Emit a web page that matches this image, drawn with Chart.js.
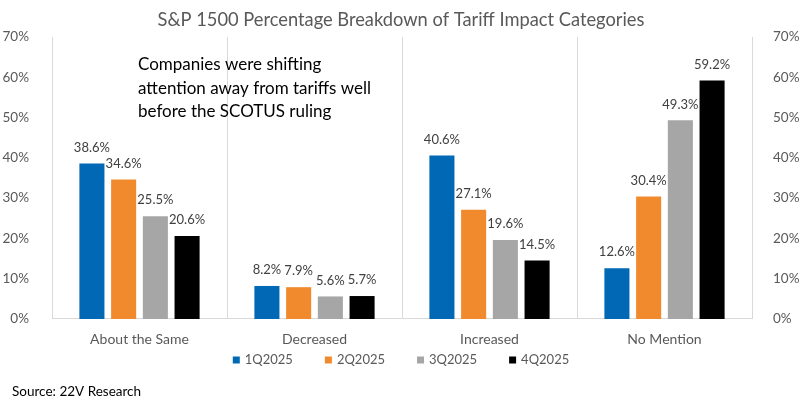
<!DOCTYPE html>
<html>
<head>
<meta charset="utf-8">
<script src="https://cdn.jsdelivr.net/npm/chart.js@4"></script>
<style>
  html, body { margin: 0; padding: 0; background: #fff; }
  #wrap { width: 802px; height: 401px; }
</style>
</head>
<body>
<div id="wrap"><canvas id="tariffChart"></canvas></div>
<script>
// Data
const categories = ['About the Same', 'Decreased', 'Increased', 'No Mention'];
const quarters = ['1Q2025', '2Q2025', '3Q2025', '4Q2025'];
const q1 = [38.6, 8.2, 40.6, 12.6];
const q2 = [34.6, 7.9, 27.1, 30.4];
const q3 = [25.5, 5.6, 19.6, 49.3];
const q4 = [20.6, 5.7, 14.5, 59.2];
const yTicks = [0, 10, 20, 30, 40, 50, 60, 70];
const colors = ['#0068B4', '#F18A2C', '#A6A6A6', '#000000'];

const note = [
  'Companies were shifting',
  'attention away from tariffs well',
  'before the SCOTUS ruling'
];

const FONT = 'Lato, "Noto Sans", sans-serif';

// value labels above bars, note text, legend and source line
const extras = {
  id: 'extras',
  afterDatasetsDraw(chart) {
    const ctx = chart.ctx;
    ctx.save();
    ctx.font = '13px ' + FONT;
    ctx.fillStyle = '#404040';
    ctx.textAlign = 'center';
    ctx.textBaseline = 'middle';
    chart.data.datasets.forEach((ds, i) => {
      chart.getDatasetMeta(i).data.forEach((bar, j) => {
        ctx.fillText(ds.data[j].toFixed(1) + '%', bar.x, bar.y - 16);
      });
    });
    ctx.restore();
  },
  afterDraw(chart) {
    const ctx = chart.ctx;
    ctx.save();
    ctx.textBaseline = 'middle';
    ctx.textAlign = 'left';

    // note
    ctx.font = '17px ' + FONT;
    ctx.fillStyle = '#000';
    note.forEach((line, i) => ctx.fillText(line, 138, 65 + i * 23.5));

    // legend
    ctx.font = '13px ' + FONT;
    const gap = 32;
    const items = chart.data.datasets.map(ds => 7 + 5 + ctx.measureText(ds.label).width);
    const total = items.reduce((a, b) => a + b, 0) + gap * (items.length - 1);
    let x = 401 - total / 2;
    const ly = 360;
    chart.data.datasets.forEach((ds, i) => {
      ctx.fillStyle = ds.backgroundColor;
      ctx.fillRect(x, ly - 3.5, 7, 7);
      ctx.fillStyle = '#595959';
      ctx.fillText(ds.label, x + 12, ly);
      x += items[i] + gap;
    });

    // source
    ctx.font = '13.5px ' + FONT;
    ctx.fillStyle = '#000';
    ctx.fillText('Source: 22V Research', 12, 392);
    ctx.restore();
  }
};

const seriesData = [q1, q2, q3, q4];

new Chart(document.getElementById('tariffChart'), {
  type: 'bar',
  data: {
    labels: categories,
    datasets: quarters.map((q, i) => ({
      label: q,
      data: seriesData[i],
      backgroundColor: colors[i],
      categoryPercentage: 0.725,
      barPercentage: 0.79
    }))
  },
  options: {
    responsive: true,
    maintainAspectRatio: false,
    animation: false,
    devicePixelRatio: 1,
    layout: { padding: { top: 0, left: 0, right: 0, bottom: 52 } },
    plugins: {
      legend: { display: false },
      tooltip: { enabled: false },
      title: {
        display: true,
        text: 'S&P 1500 Percentage Breakdown of Tariff Impact Categories',
        color: '#595959',
        font: { family: FONT, size: 18.3, weight: 'normal' },
        padding: { top: 9.5, bottom: 5.5 }
      }
    },
    scales: {
      x: {
        grid: { offset: true, color: '#D9D9D9', drawTicks: false },
        border: { color: '#D9D9D9' },
        ticks: { color: '#595959', font: { family: FONT, size: 14 }, padding: 12 },
        afterFit(scale) { scale.height = 30; }
      },
      y: {
        min: 0, max: 70,
        afterBuildTicks(scale) { scale.ticks = yTicks.map(v => ({ value: v })); },
        grid: { display: false },
        border: { display: false },
        ticks: {
          color: '#595959', font: { family: FONT, size: 13.5 }, padding: 15,
          callback: v => v + '%'
        },
        afterFit(scale) { scale.width = 52; }
      },
      y2: {
        position: 'right',
        min: 0, max: 70,
        afterBuildTicks(scale) { scale.ticks = yTicks.map(v => ({ value: v })); },
        grid: { display: false },
        border: { display: false },
        ticks: {
          color: '#595959', font: { family: FONT, size: 13.5 }, padding: 13,
          callback: v => v + '%'
        },
        afterFit(scale) { scale.width = 50; }
      }
    }
  },
  plugins: [extras]
});
</script>
</body>
</html>
